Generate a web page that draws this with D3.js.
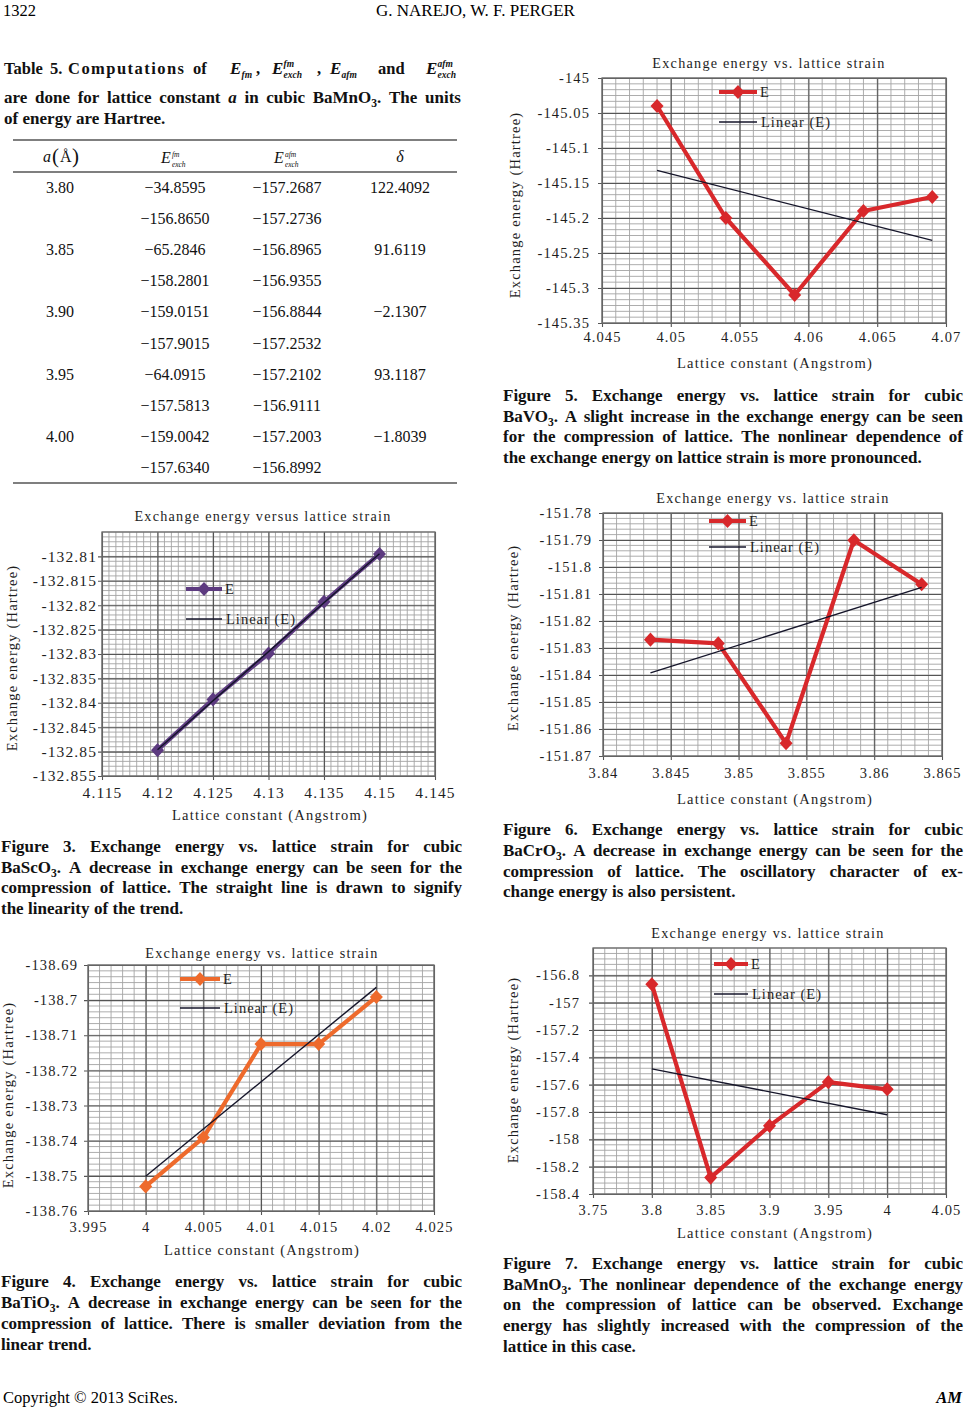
<!DOCTYPE html>
<html>
<head>
<meta charset="utf-8">
<script src="https://cdn.jsdelivr.net/npm/d3@7"></script>
<style>
body { margin: 0; background: #fff; }
svg text { font-family: "Liberation Serif", "Times New Roman", serif; }
</style>
</head>
<body>
<svg id="page" width="966" height="1414"></svg>
<script>
// ---- table 5 values (BaMnO3) ----
var tableA = ["3.80", "3.85", "3.90", "3.95", "4.00"];
var tableEfm = [[-34.8595, -156.8650], [-65.2846, -158.2801], [-159.0151, -157.9015], [-64.0915, -157.5813], [-159.0042, -157.6340]];
var tableEafm = [[-157.2687, -157.2736], [-156.8965, -156.9355], [-156.8844, -157.2532], [-157.2102, -156.9111], [-157.2003, -156.8992]];
var tableDelta = [122.4092, 91.6119, -2.1307, 93.1187, -1.8039];

// ---- figure 3, BaScO3 ----
var fig3X = [4.12, 4.125, 4.13, 4.135, 4.14];
var fig3E = [-132.8497, -132.8393, -132.8299, -132.8193, -132.8095];
var fig3XTicks = [4.115, 4.12, 4.125, 4.13, 4.135, 4.14, 4.145];
var fig3XLabels = ["4.115", "4.12", "4.125", "4.13", "4.135", "4.15", "4.145"];
var fig3YTicks = [-132.81, -132.815, -132.82, -132.825, -132.83, -132.835, -132.84, -132.845, -132.85, -132.855];

// ---- figure 4, BaTiO3 ----
var fig4X = [4, 4.005, 4.01, 4.015, 4.02];
var fig4E = [-138.7530, -138.7391, -138.7125, -138.7125, -138.6991];
var fig4XTicks = [3.995, 4, 4.005, 4.01, 4.015, 4.02, 4.025];
var fig4XLabels = ["3.995", "4", "4.005", "4.01", "4.015", "4.02", "4.025"];
var fig4YTicks = [-138.69, -138.7, -138.71, -138.72, -138.73, -138.74, -138.75, -138.76];

// ---- figure 5, BaVO3 ----
var fig5X = [4.049, 4.054, 4.059, 4.064, 4.069];
var fig5E = [-145.04, -145.2, -145.31, -145.19, -145.17];
var fig5XTicks = [4.045, 4.05, 4.055, 4.06, 4.065, 4.07];
var fig5XLabels = ["4.045", "4.05", "4.055", "4.06", "4.065", "4.07"];
var fig5YTicks = [-145, -145.05, -145.1, -145.15, -145.2, -145.25, -145.3, -145.35];

// ---- figure 6, BaCrO3 ----
var fig6X = [3.8435, 3.8485, 3.8535, 3.8585, 3.8635];
var fig6E = [-151.8269, -151.8283, -151.8653, -151.7901, -151.8064];
var fig6XTicks = [3.84, 3.845, 3.85, 3.855, 3.86, 3.865];
var fig6XLabels = ["3.84", "3.845", "3.85", "3.855", "3.86", "3.865"];
var fig6YTicks = [-151.78, -151.79, -151.8, -151.81, -151.82, -151.83, -151.84, -151.85, -151.86, -151.87];

// ---- figure 7, BaMnO3 (second E_fm row of table 5) ----
var fig7X = [3.80, 3.85, 3.90, 3.95, 4.00];
var fig7E = tableEfm.map(function(d) { return d[1]; });
var fig7XTicks = [3.75, 3.8, 3.85, 3.9, 3.95, 4, 4.05];
var fig7XLabels = ["3.75", "3.8", "3.85", "3.9", "3.95", "4", "4.05"];
var fig7YTicks = [-156.8, -157, -157.2, -157.4, -157.6, -157.8, -158, -158.2, -158.4];

var svg = d3.select("#page");

function fmtTick(v) { return String(+v.toFixed(4)); }
function fmtTable(v) { return v.toFixed(4).replace("-", "\u2212"); }

// least squares line, same as the spreadsheet "Linear (E)" trendline
function linFit(xs, ys) {
	var mx = d3.mean(xs), my = d3.mean(ys), sxy = 0, sxx = 0;
	xs.forEach(function(v, i) { sxy += (v - mx) * (ys[i] - my); sxx += (v - mx) * (v - mx); });
	var b = sxy / sxx;
	return function(v) { return my + b * (v - mx); };
}

var wideDiamond = {
	draw: function(ctx, size) {
		var r = Math.sqrt(size) / 2;
		ctx.moveTo(0, -r * 1.08); ctx.lineTo(r, 0); ctx.lineTo(0, r * 1.08); ctx.lineTo(-r, 0); ctx.closePath();
	}
};

// words may carry *italic* and {subscript}
function rich(t, word) {
	var shift = 0;
	word.split(/(\{[^}]*\}|\*[^*]*\*)/).filter(function(s) { return s; }).forEach(function(p) {
		var s = t.append("tspan");
		if (p[0] === "{") {
			s.attr("font-size", "0.68em").attr("dy", 4 - shift).text(p.slice(1, -1));
			shift = 4;
		} else {
			if (shift) { s.attr("dy", -shift); shift = 0; }
			if (p[0] === "*") s.attr("font-style", "italic").text(p.slice(1, -1));
			else s.text(p);
		}
	});
}

// justified paragraph, last line left aligned
function paragraph(lines, x0, x1, y0, lh, size) {
	var g = svg.append("g").attr("font-weight", "bold").attr("font-size", size).attr("fill", "#111");
	lines.forEach(function(line, i) {
		var words = line.split(" ");
		var nodes = words.map(function(w) {
			var t = g.append("text").attr("y", y0 + i * lh);
			rich(t, w);
			return t;
		});
		var widths = nodes.map(function(n) { return n.node().getComputedTextLength(); });
		var last = i === lines.length - 1;
		var gap = last ? size * 0.26 : Math.max(2, (x1 - x0 - d3.sum(widths)) / (words.length - 1));
		var cx = x0;
		nodes.forEach(function(n, j) { n.attr("x", cx); cx += widths[j] + gap; });
	});
}

function drawChart(c) {
	var p = c.plot;
	var w = p.right - p.left, h = p.bottom - p.top;
	var x = d3.scaleLinear().domain(c.xDomain).range([p.left, p.right]);
	var y = d3.scaleLinear().domain(c.yDomain).range([p.bottom, p.top]);
	var g = svg.append("g");
	var font = "\"Liberation Serif\", \"Times New Roman\", serif";

	g.append("rect").attr("x", p.left).attr("y", p.top).attr("width", w).attr("height", h).attr("fill", "#fff");

	// minor grid
	var xStep = Math.abs(c.xTicks[1] - c.xTicks[0]) / c.minor[0];
	var yStep = Math.abs(c.yTicks[1] - c.yTicks[0]) / c.minor[1];
	var xMinor = d3.range(Math.round((c.xDomain[1] - c.xDomain[0]) / xStep) + 1).map(function(i) { return c.xDomain[0] + i * xStep; });
	var yMinor = d3.range(Math.round((c.yDomain[1] - c.yDomain[0]) / yStep) + 1).map(function(i) { return c.yDomain[0] + i * yStep; });
	g.append("g").selectAll("line").data(xMinor).join("line")
		.attr("x1", function(d) { return x(d); }).attr("x2", function(d) { return x(d); })
		.attr("y1", p.top).attr("y2", p.bottom)
		.attr("stroke", "#a4a4a4").attr("stroke-width", 0.9);
	g.append("g").selectAll("line").data(yMinor).join("line")
		.attr("y1", function(d) { return y(d); }).attr("y2", function(d) { return y(d); })
		.attr("x1", p.left).attr("x2", p.right)
		.attr("stroke", "#a4a4a4").attr("stroke-width", 0.9);

	// axes with major grid
	var styleAxis = function(a) {
		a.select(".domain").remove();
		a.attr("font-family", font).attr("font-size", c.tickFont);
		a.selectAll("line").attr("stroke", "#555").attr("stroke-width", 1.1);
		a.selectAll("text").attr("fill", "#1e1e1e").attr("letter-spacing", 1.1);
	};
	g.append("g").attr("transform", "translate(" + (p.left - 4) + ",0)")
		.call(d3.axisLeft(y).tickValues(c.yTicks).tickFormat(fmtTick)
			.tickSize(-(w + 4)).tickPadding(p.left - 4 - c.yLabelRight))
		.call(styleAxis);
	g.append("g").attr("transform", "translate(0," + (p.bottom + 4) + ")")
		.call(d3.axisBottom(x).tickValues(c.xTicks).tickFormat(function(d, i) { return c.xLabels[i]; })
			.tickSize(-(h + 4)).tickPadding(c.xLabelY - p.bottom - 9))
		.call(styleAxis);

	g.append("rect").attr("x", p.left).attr("y", p.top).attr("width", w).attr("height", h)
		.attr("fill", "none").attr("stroke", "#6e6e6e").attr("stroke-width", 1.3);

	// series
	var line = d3.line().x(function(d, i) { return x(c.xs[i]); }).y(function(d) { return y(d); });
	g.append("path").datum(c.ys).attr("d", line)
		.attr("fill", "none").attr("stroke", c.color).attr("stroke-width", 4.2).attr("stroke-linejoin", "round");
	var sym = d3.symbol().type(wideDiamond).size(170);
	g.append("g").selectAll("path").data(c.ys).join("path")
		.attr("transform", function(d, i) { return "translate(" + x(c.xs[i]) + "," + y(d) + ")"; })
		.attr("d", sym).attr("fill", c.color);

	// trendline
	var fit = linFit(c.xs, c.ys);
	var ends = d3.extent(c.xs);
	g.append("line")
		.attr("x1", x(ends[0])).attr("y1", y(fit(ends[0])))
		.attr("x2", x(ends[1])).attr("y2", y(fit(ends[1])))
		.attr("stroke", "#15152a").attr("stroke-width", 1.4);

	// legend
	var L = c.legend;
	var txt = function(sel) { return sel.attr("font-size", 14.5).attr("letter-spacing", 1).attr("fill", "#1e1e1e").attr("dy", "0.35em"); };
	g.append("line").attr("x1", L.x1).attr("x2", L.x2).attr("y1", L.yE).attr("y2", L.yE)
		.attr("stroke", c.color).attr("stroke-width", 4.2);
	g.append("path").attr("transform", "translate(" + (L.x1 + L.x2) / 2 + "," + L.yE + ")").attr("d", sym).attr("fill", c.color);
	g.append("text").attr("x", L.x2 + 3).attr("y", L.yE).text("E").call(txt);
	g.append("line").attr("x1", L.x1).attr("x2", L.x2).attr("y1", L.yLin).attr("y2", L.yLin)
		.attr("stroke", "#15152a").attr("stroke-width", 1.4);
	g.append("text").attr("x", L.x2 + 4).attr("y", L.yLin).text("Linear (E)").call(txt);

	// titles
	g.append("text").attr("x", c.title[0]).attr("y", c.title[1]).attr("text-anchor", "middle")
		.attr("dy", "0.35em").attr("font-size", 14.2).attr("letter-spacing", 1.25).attr("fill", "#1e1e1e").text(c.title[2]);
	g.append("text").attr("x", c.xTitle[0]).attr("y", c.xTitle[1]).attr("text-anchor", "middle")
		.attr("dy", "0.35em").attr("font-size", 14.5).attr("letter-spacing", 1.2).attr("fill", "#1e1e1e").text("Lattice constant (Angstrom)");
	g.append("text").attr("transform", "translate(" + c.yTitle[0] + "," + c.yTitle[1] + ") rotate(-90)")
		.attr("text-anchor", "middle").attr("dy", "0.35em").attr("font-size", 14.5).attr("letter-spacing", 1.2)
		.attr("fill", "#1e1e1e").text("Exchange energy (Hartree)");
}

// ---- running head ----
svg.append("text").attr("x", 3).attr("y", 16).attr("font-size", 16.5).text("1322");
svg.append("text").attr("x", 376).attr("y", 16).attr("font-size", 17).text("G. NAREJO, W. F. PERGER");

// ---- table caption ----
var cap = svg.append("g").attr("font-weight", "bold").attr("font-size", 16.5).attr("fill", "#111");
[["Table", 4], ["5.", 50], ["Computations", 68, 116], ["of", 193], ["and", 378]].forEach(function(d) {
	var t = cap.append("text").attr("x", d[1]).attr("y", 74).text(d[0]);
	if (d[2]) t.attr("textLength", d[2]).attr("lengthAdjust", "spacing");
});
function mathE(g, x0, yb, sup, sub, size, subSize) {
	g.append("text").attr("x", x0).attr("y", yb).attr("font-style", "italic").attr("font-size", size).text("E");
	if (sup) g.append("text").attr("x", x0 + size * 0.68).attr("y", yb - size * 0.4).attr("font-style", "italic").attr("font-size", subSize).text(sup);
	if (sub) g.append("text").attr("x", x0 + size * 0.68).attr("y", yb + size * 0.25).attr("font-style", "italic").attr("font-size", subSize).text(sub);
}
mathE(cap, 230, 74, null, "fm", 17, 9.5);
cap.append("text").attr("x", 256).attr("y", 74).text(",");
mathE(cap, 272, 74, "fm", "exch", 17, 9.5);
cap.append("text").attr("x", 317).attr("y", 74).text(",");
mathE(cap, 330, 74, null, "afm", 17, 9.5);
mathE(cap, 426, 74, "afm", "exch", 17, 9.5);
paragraph(["are done for lattice constant *a* in cubic BaMnO{3}. The units", "of energy are Hartree."], 4, 461, 103, 21, 17);

// ---- table ----
var tbl = svg.append("g").attr("font-size", 16).attr("fill", "#111");
[140, 172, 483].forEach(function(yy) {
	tbl.append("line").attr("x1", 13).attr("x2", 457).attr("y1", yy).attr("y2", yy).attr("stroke", "#000").attr("stroke-width", 1.1);
});
var colX = [60, 175, 287, 400];
var hd = tbl.append("g");
hd.append("text").attr("x", 43).attr("y", 162).attr("font-style", "italic").text("a");
hd.append("text").attr("x", 52).attr("y", 163).attr("font-size", 21).text("(");
hd.append("text").attr("x", 60).attr("y", 162).text("\u00c5");
hd.append("text").attr("x", 72).attr("y", 163).attr("font-size", 21).text(")");
mathE(hd, 161, 163, "fm", "exch", 16, 7.5);
mathE(hd, 274, 163, "afm", "exch", 16, 7.5);
hd.append("text").attr("x", colX[3]).attr("y", 162).attr("text-anchor", "middle").attr("font-style", "italic").text("\u03b4");

var rowY = d3.scaleLinear().domain([0, 9]).range([193, 473]);
tableA.forEach(function(a, i) {
	var y1 = rowY(2 * i), y2 = rowY(2 * i + 1);
	var cell = function(col, yy, s) { tbl.append("text").attr("x", colX[col]).attr("y", yy).attr("text-anchor", "middle").text(s); };
	cell(0, y1, a);
	cell(1, y1, fmtTable(tableEfm[i][0]));
	cell(2, y1, fmtTable(tableEafm[i][0]));
	cell(3, y1, fmtTable(tableDelta[i]));
	cell(1, y2, fmtTable(tableEfm[i][1]));
	cell(2, y2, fmtTable(tableEafm[i][1]));
});

// ---- charts ----
drawChart({
	xs: fig3X, ys: fig3E, xTicks: fig3XTicks, xLabels: fig3XLabels, yTicks: fig3YTicks,
	xDomain: [4.115, 4.145], yDomain: [-132.855, -132.805], minor: [8, 5],
	plot: { left: 102, right: 435, top: 532, bottom: 776 }, yLabelRight: 97, xLabelY: 792, tickFont: 15.5,
	color: "#5d3b80", title: [263, 516, "Exchange energy versus lattice strain"],
	xTitle: [270, 815], yTitle: [12, 658],
	legend: { x1: 186, x2: 222, yE: 589, yLin: 619 }
});
drawChart({
	xs: fig4X, ys: fig4E, xTicks: fig4XTicks, xLabels: fig4XLabels, yTicks: fig4YTicks,
	xDomain: [3.995, 4.025], yDomain: [-138.76, -138.69], minor: [5, 6],
	plot: { left: 88, right: 434, top: 965, bottom: 1211 }, yLabelRight: 78, xLabelY: 1227, tickFont: 14.5,
	color: "#ee6a2c", title: [262, 953, "Exchange energy vs. lattice strain"],
	xTitle: [262, 1250], yTitle: [8, 1095],
	legend: { x1: 180, x2: 220, yE: 979, yLin: 1008 }
});
drawChart({
	xs: fig5X, ys: fig5E, xTicks: fig5XTicks, xLabels: fig5XLabels, yTicks: fig5YTicks,
	xDomain: [4.045, 4.07], yDomain: [-145.35, -145], minor: [5, 6],
	plot: { left: 602, right: 946, top: 78, bottom: 323 }, yLabelRight: 590, xLabelY: 337, tickFont: 14.5,
	color: "#d8282b", title: [769, 63, "Exchange energy vs. lattice strain"],
	xTitle: [775, 363], yTitle: [515, 205],
	legend: { x1: 719, x2: 757, yE: 92, yLin: 122 }
});
drawChart({
	xs: fig6X, ys: fig6E, xTicks: fig6XTicks, xLabels: fig6XLabels, yTicks: fig6YTicks,
	xDomain: [3.84, 3.865], yDomain: [-151.87, -151.78], minor: [5, 5],
	plot: { left: 603, right: 942, top: 513, bottom: 756 }, yLabelRight: 592, xLabelY: 773, tickFont: 14.5,
	color: "#d8282b", title: [773, 498, "Exchange energy vs. lattice strain"],
	xTitle: [775, 799], yTitle: [513, 638],
	legend: { x1: 709, x2: 746, yE: 521, yLin: 547 }
});
drawChart({
	xs: fig7X, ys: fig7E, xTicks: fig7XTicks, xLabels: fig7XLabels, yTicks: fig7YTicks,
	xDomain: [3.75, 4.05], yDomain: [-158.4, -156.6], minor: [5, 5],
	plot: { left: 593, right: 946, top: 948, bottom: 1194 }, yLabelRight: 580, xLabelY: 1210, tickFont: 14.5,
	color: "#d8282b", title: [768, 933, "Exchange energy vs. lattice strain"],
	xTitle: [775, 1233], yTitle: [513, 1070],
	legend: { x1: 714, x2: 748, yE: 964, yLin: 994 }
});

// ---- captions ----
paragraph([
	"Figure 3. Exchange energy vs. lattice strain for cubic",
	"BaScO{3}. A decrease in exchange energy can be seen for the",
	"compression of lattice. The straight line is drawn to signify",
	"the linearity of the trend."
], 1, 462, 852, 20.7, 17);
paragraph([
	"Figure 4. Exchange energy vs. lattice strain for cubic",
	"BaTiO{3}. A decrease in exchange energy can be seen for the",
	"compression of lattice. There is smaller deviation from the",
	"linear trend."
], 1, 462, 1287, 21, 17);
paragraph([
	"Figure 5. Exchange energy vs. lattice strain for cubic",
	"BaVO{3}. A slight increase in the exchange energy can be seen",
	"for the compression of lattice. The nonlinear dependence of",
	"the exchange energy on lattice strain is more pronounced."
], 503, 963, 401, 20.7, 17);
paragraph([
	"Figure 6. Exchange energy vs. lattice strain for cubic",
	"BaCrO{3}. A decrease in exchange energy can be seen for the",
	"compression of lattice. The oscillatory character of ex-",
	"change energy is also persistent."
], 503, 963, 835, 20.8, 17);
paragraph([
	"Figure 7. Exchange energy vs. lattice strain for cubic",
	"BaMnO{3}. The nonlinear dependence of the exchange energy",
	"on the compression of lattice can be observed. Exchange",
	"energy has slightly increased with the compression of the",
	"lattice in this case."
], 503, 963, 1269, 20.7, 17);

// ---- footer ----
svg.append("text").attr("x", 3).attr("y", 1403).attr("font-size", 16.5).text("Copyright \u00a9 2013 SciRes.");
svg.append("text").attr("x", 962).attr("y", 1403).attr("text-anchor", "end").attr("font-size", 16.5)
	.attr("font-weight", "bold").attr("font-style", "italic").text("AM");
</script>
</body>
</html>
